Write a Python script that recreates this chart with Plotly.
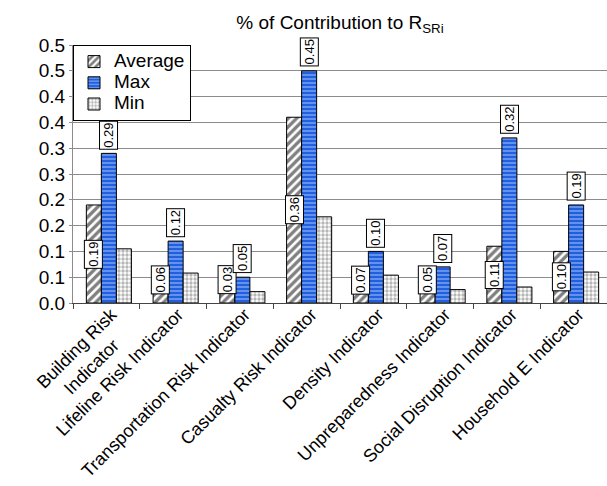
import plotly.graph_objects as go

# Indicator categories and their contribution shares
categories = [
    "Building Risk Indicator",
    "Lifeline Risk Indicator",
    "Transportation Risk Indicator",
    "Casualty Risk Indicator",
    "Density Indicator",
    "Unpreparedness Indicator",
    "Social Disruption Indicator",
    "Household E Indicator",
]
category_labels = [
    "Building Risk<br>Indicator" + "\u00a0" * 4 + "\u200b",
    "Lifeline Risk Indicator",
    "Transportation Risk Indicator",
    "Casualty Risk Indicator",
    "Density Indicator",
    "Unpreparedness Indicator",
    "Social Disruption Indicator",
    "Household E Indicator",
]
average = [0.19, 0.06, 0.03, 0.36, 0.07, 0.05, 0.11, 0.10]
maximum = [0.29, 0.12, 0.05, 0.45, 0.10, 0.07, 0.32, 0.19]
minimum = [0.105, 0.058, 0.022, 0.167, 0.054, 0.026, 0.031, 0.060]

y_tick_values = [0.0, 0.05, 0.10, 0.15, 0.20, 0.25, 0.30, 0.35, 0.40, 0.45, 0.50]
y_tick_labels = ["0.0", "0.1", "0.1", "0.2", "0.2", "0.3", "0.3", "0.4", "0.4", "0.5", "0.5"]

FONT = "Arial, Liberation Sans, sans-serif"
BAR_W = 0.225
OFF_AVG, OFF_MAX, OFF_MIN = -0.30, -0.075, 0.15


def legend_name(s):
    return f'<span style="font-size:19px">{s}</span>'


fig = go.Figure()
fig.add_trace(go.Bar(
    name=legend_name("Average"), x=categories, y=average, width=BAR_W, offset=OFF_AVG,
    marker=dict(color="white", line=dict(color="black", width=1),
                pattern=dict(shape="/", fgcolor="black", bgcolor="white",
                             size=6, solidity=0.55)),
))
fig.add_trace(go.Bar(
    name=legend_name("Max"), x=categories, y=maximum, width=BAR_W, offset=OFF_MAX,
    marker=dict(color="#1f5fe0", line=dict(color="black", width=1),
                pattern=dict(shape="-", fgcolor="#e4ecfc", bgcolor="#1f5fe0",
                             size=4, solidity=0.35)),
))
fig.add_trace(go.Bar(
    name=legend_name("Min"), x=categories, y=minimum, width=BAR_W, offset=OFF_MIN,
    marker=dict(color="white", line=dict(color="black", width=1),
                pattern=dict(shape=".", fgcolor="#6e6e6e", bgcolor="white",
                             size=4, solidity=0.55)),
))

# Boxed value labels: averages inside their bars, maxima above theirs
box = dict(textangle=-90, showarrow=False, bgcolor="white", bordercolor="black",
           borderwidth=1, borderpad=1, font=dict(family=FONT, size=13, color="black"),
           xref="x", yref="y")
for i, v in enumerate(average):
    fig.add_annotation(x=i + OFF_AVG + BAR_W / 2, y=max(v / 2, 0.045),
                       text=f"{v:.2f}", xanchor="center", yanchor="middle", **box)
for i, v in enumerate(maximum):
    fig.add_annotation(x=i + OFF_MAX + BAR_W / 2, y=v, yshift=4,
                       text=f"{v:.2f}", xanchor="center", yanchor="bottom", **box)

fig.update_layout(
    width=607, height=486,
    margin=dict(l=73, r=0, t=45, b=183),
    paper_bgcolor="white", plot_bgcolor="white",
    font=dict(family=FONT, color="black"),
    barmode="group",
    title=dict(text="% of Contribution to R<sub>SRi</sub>", x=0.5, xref="paper",
               y=0.955, yref="container", xanchor="center", yanchor="middle",
               font=dict(family=FONT, size=19, color="black")),
    legend=dict(x=0, y=1, xanchor="left", yanchor="top", bgcolor="white",
                bordercolor="black", borderwidth=1,
                font=dict(family=FONT, size=14, color="black"),
                tracegroupgap=0, itemwidth=30),
    showlegend=True,
)
fig.update_xaxes(
    type="category", tickmode="array", tickvals=categories, ticktext=category_labels,
    tickson="boundaries", ticks="outside", ticklen=5,
    tickcolor="#444", showline=True, linecolor="#444", linewidth=1,
    tickangle=-45, tickfont=dict(family=FONT, size=18, color="black"),
    ticklabelshift=5, ticklabelstandoff=-7, automargin=False,
    range=[-0.5, 7.5], showgrid=False,
)
fig.update_yaxes(
    range=[0, 0.5], tickvals=y_tick_values, ticktext=y_tick_labels,
    showgrid=True, gridcolor="#8c8c8c", gridwidth=1,
    showline=True, linecolor="#8c8c8c", linewidth=1,
    ticks="outside", ticklen=3, tickcolor="#8c8c8c", automargin=False,
    tickfont=dict(family=FONT, size=19, color="black"), zeroline=False,
)

fig.write_html("out.html")
